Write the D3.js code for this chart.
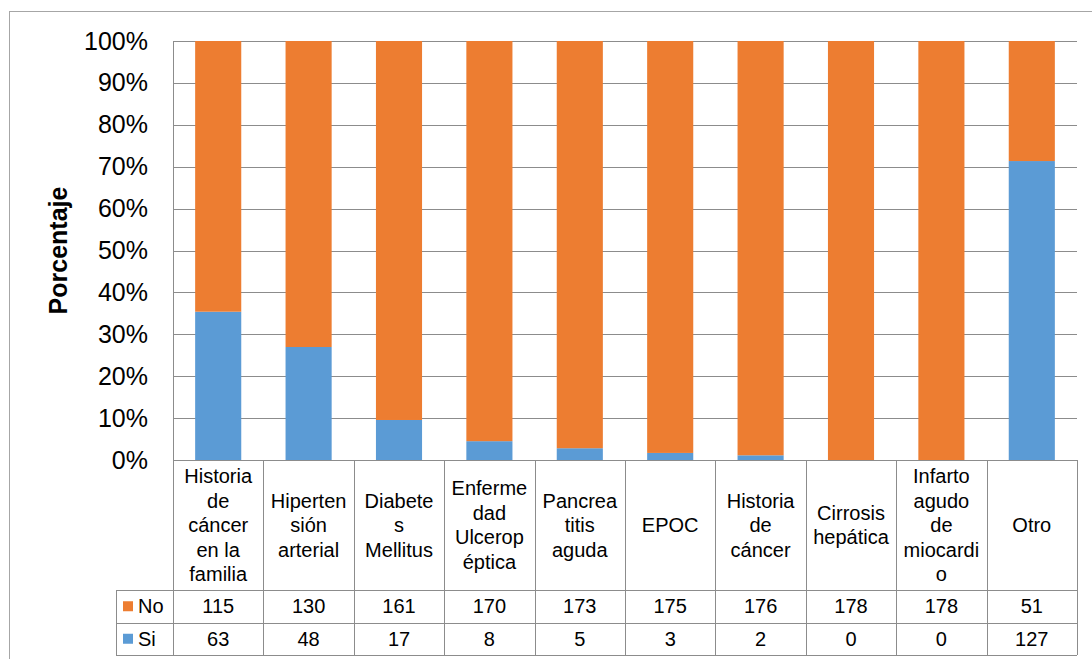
<!DOCTYPE html>
<html>
<head>
<meta charset="utf-8">
<script src="https://cdn.jsdelivr.net/npm/d3@7"></script>
<style>
  html, body { margin: 0; padding: 0; background: #fff; }
  svg { display: block; font-family: "Liberation Sans", Arial, sans-serif; }
</style>
</head>
<body>
<svg id="chart" width="1092" height="659"></svg>
<script>
// Category labels, wrapped into lines as shown in the table header
const categories = [
  ["Historia", "de", "cáncer", "en la", "familia"],
  ["Hiperten", "sión", "arterial"],
  ["Diabete", "s", "Mellitus"],
  ["Enferme", "dad", "Ulcerop", "éptica"],
  ["Pancrea", "titis", "aguda"],
  ["EPOC"],
  ["Historia", "de", "cáncer"],
  ["Cirrosis", "hepática"],
  ["Infarto", "agudo", "de", "miocardi", "o"],
  ["Otro"]
];
const siValues = [63, 48, 17, 8, 5, 3, 2, 0, 0, 127];
const noValues = [115, 130, 161, 170, 173, 175, 176, 178, 178, 51];
const seriesNames = ["Si", "No"];
const seriesColors = ["#5B9BD5", "#ED7D31"];
const yTicks = [0, 0.1, 0.2, 0.3, 0.4, 0.5, 0.6, 0.7, 0.8, 0.9, 1.0];
const yTitle = "Porcentaje";

const svg = d3.select("#chart");
const gridColor = "#8c8c8c";
const tableColor = "#8c8c8c";

const plot = { left: 173, right: 1077, top: 41, bottom: 460 };
const headerBottom = 590;
const rowH = 32.5;
const legendLeft = 116;

// Outer chart frame
svg.append("rect")
  .attr("x", 9.5).attr("y", 11.5)
  .attr("width", 1200).attr("height", 800)
  .attr("fill", "none").attr("stroke", "#a6a6a6").attr("stroke-width", 1);

const idx = d3.range(categories.length);
const x = d3.scaleBand().domain(idx).range([plot.left, plot.right]).paddingInner(0).paddingOuter(0);
const y = d3.scaleLinear().domain([0, 1]).range([plot.bottom, plot.top]);

// Gridlines
svg.append("g").selectAll("line").data(yTicks).join("line")
  .attr("x1", plot.left).attr("x2", plot.right)
  .attr("y1", d => Math.round(y(d)) + 0.5).attr("y2", d => Math.round(y(d)) + 0.5)
  .attr("stroke", gridColor).attr("stroke-width", 1);

// Y axis
const yAxis = d3.axisLeft(y).tickValues(yTicks).tickFormat(d3.format(".0%")).tickSize(0).tickPadding(25);
const gy = svg.append("g").attr("transform", `translate(${plot.left},0)`).call(yAxis);
gy.select(".domain").attr("stroke", gridColor).attr("d", `M0.5,${plot.top}V${plot.bottom}`);
gy.selectAll("text")
  .attr("font-size", 25).attr("fill", "#000")
  .attr("font-family", "'Liberation Sans', Arial, sans-serif");

// Stacked 100% bars
const rows = idx.map(i => ({ i, Si: siValues[i], No: noValues[i] }));
const stack = d3.stack().keys(seriesNames).offset(d3.stackOffsetExpand);
const layers = stack(rows);
const barW = x.bandwidth() * 0.51;

svg.append("g").selectAll("g").data(layers).join("g")
  .attr("fill", (d, k) => seriesColors[k])
  .selectAll("rect").data(d => d).join("rect")
  .attr("x", d => x(d.data.i) + (x.bandwidth() - barW) / 2)
  .attr("width", barW)
  .attr("y", d => y(d[1]))
  .attr("height", d => Math.max(0, y(d[0]) - y(d[1])));

// Data table
const table = svg.append("g").attr("stroke", tableColor).attr("stroke-width", 1).attr("fill", "none");
const r1 = headerBottom, r2 = headerBottom + rowH, r3 = headerBottom + 2 * rowH;
// horizontal lines
[[plot.left, plot.bottom], [legendLeft, r1], [legendLeft, r2], [legendLeft, r3]].forEach(([x0, yy]) => {
  table.append("line").attr("x1", x0).attr("x2", plot.right)
    .attr("y1", Math.round(yy) + 0.5).attr("y2", Math.round(yy) + 0.5);
});
// vertical lines between categories
idx.concat([categories.length]).forEach(i => {
  const xx = Math.round(i < categories.length ? x(i) : plot.right) + 0.5;
  table.append("line").attr("x1", xx).attr("x2", xx).attr("y1", plot.bottom).attr("y2", r3);
});
table.append("line").attr("x1", legendLeft + 0.5).attr("x2", legendLeft + 0.5).attr("y1", r1).attr("y2", r3);

// Header text, one tspan per wrapped line
const lineH = 24.5;
const headerMid = (plot.bottom + headerBottom) / 2;
const hdr = svg.append("g").attr("font-size", 20).attr("fill", "#000").attr("text-anchor", "middle");
categories.forEach((lines, i) => {
  const cx = x(i) + x.bandwidth() / 2;
  const y0 = headerMid - (lines.length - 1) * lineH / 2;
  const t = hdr.append("text");
  lines.forEach((s, k) => t.append("tspan")
    .attr("x", cx).attr("y", y0 + k * lineH).attr("dy", "0.35em").text(s));
});

// Value rows (No first, then Si) with legend keys
const tableRows = [
  { name: "No", values: noValues, color: seriesColors[1], top: r1 },
  { name: "Si", values: siValues, color: seriesColors[0], top: r2 }
];
tableRows.forEach(row => {
  const cy = row.top + rowH / 2;
  svg.append("rect").attr("x", 123).attr("y", cy - 5).attr("width", 10).attr("height", 10).attr("fill", row.color);
  svg.append("text").attr("x", 138).attr("y", cy).attr("dy", "0.35em")
    .attr("font-size", 20).attr("fill", "#000").text(row.name);
  svg.append("g").selectAll("text").data(row.values).join("text")
    .attr("x", (d, i) => x(i) + x.bandwidth() / 2)
    .attr("y", cy).attr("dy", "0.35em")
    .attr("text-anchor", "middle").attr("font-size", 20).attr("fill", "#000")
    .text(d => d);
});

// Y axis title
svg.append("text")
  .attr("transform", `translate(67,${(plot.top + plot.bottom) / 2}) rotate(-90)`)
  .attr("text-anchor", "middle")
  .attr("font-size", 25).attr("font-weight", "bold").attr("fill", "#000")
  .text(yTitle);
</script>
</body>
</html>
